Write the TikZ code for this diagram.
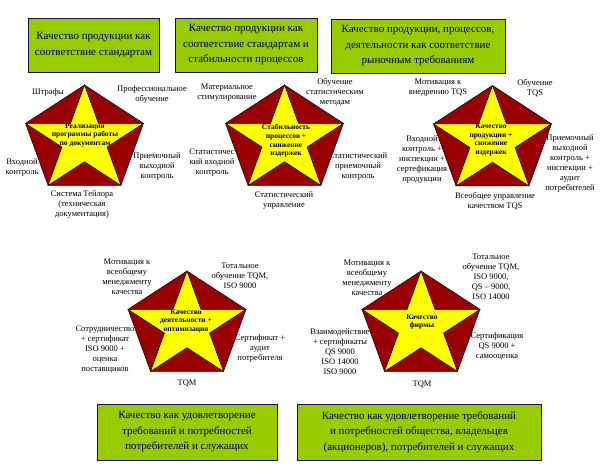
\documentclass[tikz,border=0pt]{standalone}
\usepackage{fontspec}
\setmainfont{Liberation Serif}
\definecolor{pentred}{RGB}{153,0,0}
\definecolor{staryellow}{RGB}{255,255,0}
\definecolor{boxgreen}{RGB}{153,204,0}
\definecolor{boxborder}{RGB}{20,20,60}
\tikzset{
  box/.style={draw=boxborder, fill=boxgreen, line width=1pt, align=center,
    font=\fontsize{11}{15.5}\selectfont, inner sep=0pt},
  lab/.style={align=center, font=\fontsize{8.5}{10}\selectfont, inner sep=0pt},
  startxt/.style={align=center, font=\fontsize{7.5}{8.6}\selectfont\bfseries, inner sep=0pt},
  pent/.style={fill=pentred, draw=black, line width=0.5pt},
  starfill/.style={fill=staryellow, draw=black, line width=0.5pt}
}
\newcommand\pentastar[3]{%
  \coordinate (#1) at (#2,#3);
  \draw[pent] ({#2},{#3-55.5}) \foreach \k in {1,...,4}{ -- ({#2+62*cos(90+72*\k)},{#3-55.5*sin(90+72*\k)}) } -- cycle;
  \draw[starfill] ({#2},{#3-55.5}) \foreach \k in {1,...,9}{ -- ({#2+62*(1-0.618*mod(\k,2))*cos(90+36*\k)},{#3-55.5*(1-0.618*mod(\k,2))*sin(90+36*\k)}) } -- cycle;
}
\begin{document}
\begin{tikzpicture}[x=1pt,y=-1pt]
\useasboundingbox[fill=white] (0,0) rectangle (600,467);

% top boxes
\node[box, minimum width=131pt, minimum height=54pt] (b1) at (93.5,45) {Качество продукции как\\соответствие стандартам};
\node[box, minimum width=142pt, minimum height=54pt] (b2) at (246,45) {Качество продукции как\\соответствие стандартам и\\стабильности процессов};
\node[box, minimum width=174pt, minimum height=54pt] (b3) at (418,46) {Качество продукции, процессов,\\деятельности как соответствие\\рыночным требованиям};
% bottom boxes
\node[box, minimum width=180pt, minimum height=56pt] (b4) at (187,432) {Качество как удовлетворение\\требований и потребностей\\потребителей и служащих};
\node[box, minimum width=244pt, minimum height=56pt] (b5) at (419,432) {Качество как удовлетворение требований\\и потребностей общества, владельцев\\(акционеров), потребителей и служащих};

% pentagons with stars
\pentastar{p1}{84.5}{140.5}
\pentastar{p2}{284.5}{140.5}
\pentastar{p3}{492.5}{141}
\pentastar{p4}{187}{326.5}
\pentastar{p5}{421}{326.5}

% star texts
\node[startxt] (s1) at (85,135) {Реализация\\программы работы\\по документам};
\node[startxt] (s2) at (286,141) {Стабильность\\процессов +\\снижение\\издержек};
\node[startxt] (s3) at (491,140) {Качество\\продукции +\\снижение\\издержек};
\node[startxt] (s4) at (186,321) {Качество\\деятельности +\\оптимизация};
\node[startxt] (s5) at (422,322) {Качество\\фирмы};

% pentagon 1 labels
\node[lab] (l11) at (48,92) {Штрафы};
\node[lab] (l12) at (152,94) {Профессиональное\\обучение};
\node[lab] (l13) at (22,167) {Входной\\контроль};
\node[lab] (l14) at (157,166) {Приемочный\\выходной\\контроль};
\node[lab] (l15) at (82,205) {Система Тейлора\\(техническая\\документация)};

% pentagon 2 labels
\node[lab] (l21) at (227,93) {Материальное\\стимулирование};
\node[lab] (l22) at (335,92) {Обучение\\статистическим\\методам};
\node[lab] (l23) at (212,163) {Статистичес\\кий входной\\контроль};
\node[lab] (l24) at (358,166) {Статистический\\приемочный\\контроль};
\node[lab] (l25) at (284,201) {Статистический\\управление};

% pentagon 3 labels
\node[lab] (l31) at (438,88) {Мотивация к\\внедрению TQS};
\node[lab] (l32) at (535,88) {Обучение\\TQS};
\node[lab] (l33) at (422,160) {Входной\\контроль +\\инспекции +\\сертефикация\\продукции};
\node[lab] (l34) at (570,163) {Приемочный\\выходной\\контроль +\\инспекции +\\аудит\\потребителей};
\node[lab] (l35) at (495,201) {Всеобщее управление\\качеством TQS};

% pentagon 4 labels
\node[lab] (l41) at (127,277) {Мотивация к\\всеобщему\\менеджменту\\качества};
\node[lab] (l42) at (240,276) {Тотальное\\обучение TQM,\\ISO 9000};
\node[lab] (l43) at (105,350) {Сотрудничество\\+ сертификат\\ISO 9000 +\\оценка\\поставщиков};
\node[lab] (l44) at (260,348) {Сертификат +\\аудит\\потребителя};
\node[lab] (l45) at (187,383) {TQM};

% pentagon 5 labels
\node[lab] (l51) at (367,278) {Мотивация к\\всеобщему\\менеджменту\\качества};
\node[lab] (l52) at (491,277) {Тотальное\\обучение TQM,\\ISO 9000,\\QS – 9000,\\ISO 14000};
\node[lab] (l53) at (340,352) {Взаимодействие\\+ сертификаты\\QS 9000\\ISO 14000\\ISO 9000};
\node[lab] (l54) at (497,346) {Сертификация\\QS 9000 +\\самооценка};
\node[lab] (l55) at (422,384) {TQM};
\end{tikzpicture}
\end{document}
